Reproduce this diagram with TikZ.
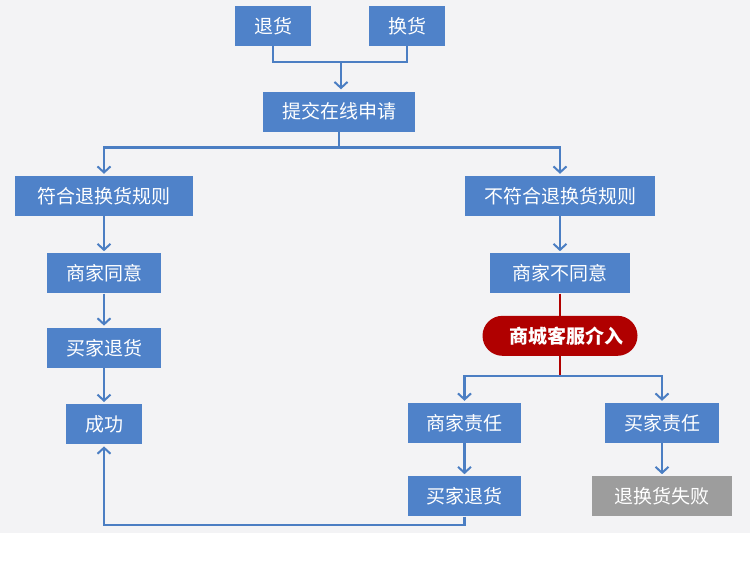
\documentclass[tikz,border=0pt]{standalone}
\usepackage{fontspec}
\setmainfont{Noto Sans CJK SC}
\usepackage{xcolor}
\definecolor{colorBox}{HTML}{4F82C9}
\definecolor{colorLine}{HTML}{4B7EC3}
\definecolor{colorFail}{HTML}{9D9D9D}
\definecolor{colorService}{HTML}{B00000}
\definecolor{colorBack}{HTML}{F3F3F5}
\usetikzlibrary{arrows.meta, positioning}
\tikzset{
  stepbox/.style={rectangle, fill=colorBox, text=white, minimum height=40pt, inner sep=0pt,
    font=\fontsize{19}{22}\selectfont},
  failbox/.style={stepbox, fill=colorFail},
  servicebox/.style={rectangle, rounded corners=20pt, fill=colorService, text=white, minimum height=40pt,
    minimum width=155pt, inner sep=0pt, font=\fontsize{19}{22}\selectfont\bfseries},
  link/.style={colorLine, line width=2.6pt},
  arrowlink/.style={link, ->, shorten >=2pt}
}

\begin{document}
\begin{tikzpicture}[x=1pt, y=-1pt, >={Straight Barb[length=6pt, width=13pt, line width=2pt]}, node distance=37pt]
\fill[colorBack] (0,0) rectangle (750,533);
\useasboundingbox (0,0) rectangle (750,560);
\node[stepbox, minimum width=76pt] (q0) at (273,26) {退货};
\node[stepbox, minimum width=76pt] (q1) at (407,26) {换货};
\node[stepbox, minimum width=152pt] (q2) at (339,111.5) {提交在线申请};
\node[stepbox, minimum width=178pt] (q3) at (104,196) {符合退换货规则};
\node[stepbox, minimum width=190pt] (q4) at (560,196) {不符合退换货规则};
\node[stepbox, minimum width=114pt, below=of q3] (q5) {商家同意};
\node[stepbox, minimum width=114pt, below=34pt of q5] (q6) {买家退货};
\node[stepbox, minimum width=76pt, below=36pt of q6] (q7) {成功};
\node[stepbox, minimum width=140pt, below=of q4] (q8) {商家不同意};
\node[servicebox, below=22pt of q8] (q9) {\hspace*{12pt}商城客服介入};
\node[stepbox, minimum width=113pt] (q10) at (464.5,423) {商家责任};
\node[stepbox, minimum width=114pt] (q11) at (662,423) {买家责任};
\node[stepbox, minimum width=113pt, below=33pt of q10] (q12) {买家退货};
\node[failbox, minimum width=140pt, below=33pt of q11] (q13) {退换货失败};
\coordinate (j0) at (341,62);
\coordinate (j1) at (339,147.5);
\coordinate (j2) at (560,376);
\coordinate (j3) at (464.5,525);
% top merge and split
\draw[link] (q0.south) |- (j0) -| (q1.south);
\draw[arrowlink] (j0) -- (j0 |- q2.north);
\draw[arrowlink] (q2.south) -- (j1) -| (q3.north);
\draw[arrowlink] (j1) -| (q4.north);
% left branch
\draw[arrowlink] (q3) -- (q5);
\draw[arrowlink] (q5) -- (q6);
\draw[arrowlink] (q6) -- (q7);
% right branch
\draw[arrowlink] (q4) -- (q8);
\draw[colorService, line width=2.6pt] (q8) -- (q9);
\draw[colorService, line width=2.6pt] (q9.south) -- (j2);
\draw[arrowlink] (j2) -| (q10.north);
\draw[arrowlink] (j2) -| (q11.north);
\draw[arrowlink] (q10) -- (q12);
\draw[arrowlink] (q11) -- (q13);
% back to success
\draw[arrowlink] (q12.south) -- (j3) -| (q7.south);
\end{tikzpicture}
\end{document}
